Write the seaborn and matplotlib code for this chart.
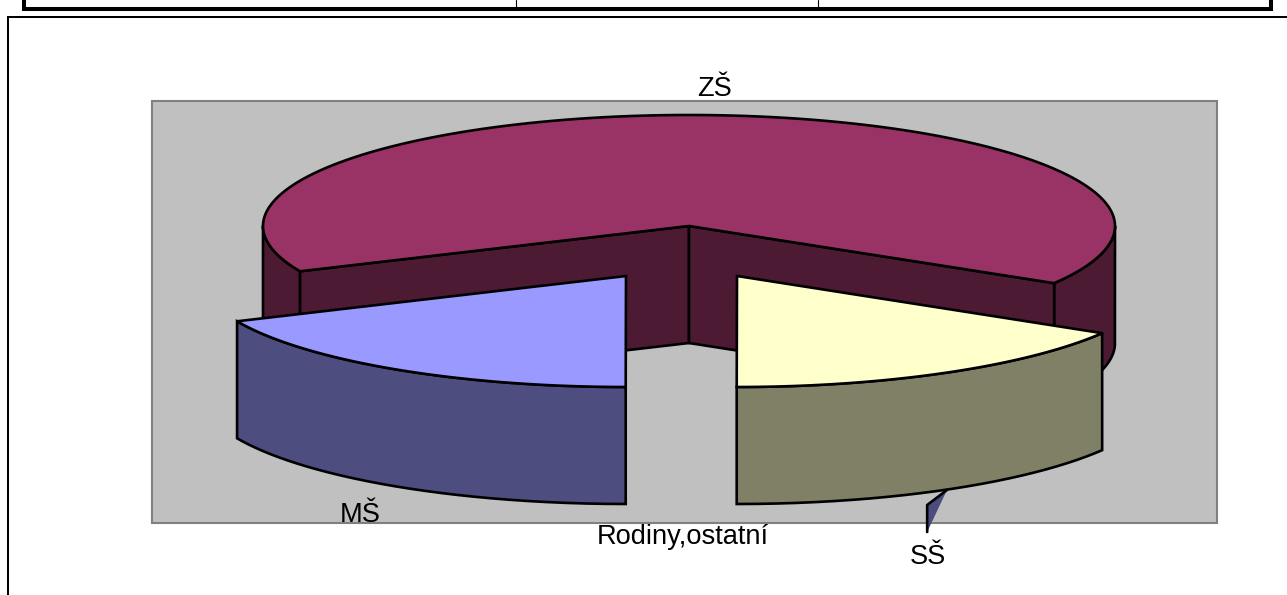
import numpy as np
import seaborn as sns
import matplotlib.pyplot as plt
from matplotlib.patches import Rectangle

# Shares (percent)
labels = ['ZŠ', 'SŠ', 'MŠ', 'Rodiny,ostatní']
shares = [65.3, 16.4, 18.3, 0.0]
top_colors = ['#993366', '#FFFFCC', '#9999FF', '#9999FF']

sns.set_style("white")
plt.rcParams['font.family'] = ['Liberation Sans', 'DejaVu Sans']
plt.rcParams['text.color'] = 'black'

# Pie geometry, in figure pixels
RX, RY, DEPTH = 426, 111, 117
PIE_CENTER = (689, 226)
OFFSETS = {'ZŠ': (0, 0), 'SŠ': (48, 50), 'MŠ': (-63, 50)}
START_ANGLE = 329  # where ZŠ ends, slices then run clockwise
LW = 1.9

side_colors = [tuple(c * 0.5 for c in col) for col in sns.color_palette(top_colors)]


def arc(cx, cy, a0, a1, rx=RX, ry=RY):
    t = np.radians(np.linspace(a0, a1, 200))
    return cx + rx * np.cos(t), cy - ry * np.sin(t)


def draw_wall(ax, xs, ys, color):
    # extruded band below a top edge
    ax.fill(np.r_[xs, xs[::-1]], np.r_[ys, ys[::-1] + DEPTH], color=color, lw=0, zorder=3)
    ax.plot(np.r_[xs, xs[::-1], xs[0]], np.r_[ys, ys[::-1] + DEPTH, ys[0]], color='black', lw=LW,
            solid_joinstyle='miter', zorder=3)


def draw_top(ax, cx, cy, a0, a1, color):
    xs, ys = arc(cx, cy, a0, a1)
    ax.fill(np.r_[cx, xs, cx], np.r_[cy, ys, cy], facecolor=color, edgecolor='black', lw=LW,
            joinstyle='miter', zorder=3)


fig = plt.figure(figsize=(12.87, 5.95), dpi=100)
ax = fig.add_axes([0, 0, 1, 1])
ax.set_xlim(0, 1287)
ax.set_ylim(595, 0)
ax.axis('off')

# Remains of the table above and the frame around the chart
ax.plot([24, 24, 1271, 1271], [0, 9, 9, 0], color='black', lw=2.9, solid_joinstyle='miter')
ax.plot([515.5, 515.5], [0, 8], color='black', lw=0.8)
ax.plot([817.5, 817.5], [0, 8], color='black', lw=0.8)
ax.plot([8, 8, 1287], [595, 17, 17], color='black', lw=1.45, solid_joinstyle='miter')

# Plot area
ax.add_patch(Rectangle((152, 100.5), 1065, 422.5, fc='#C0C0C0', ec='#808080', lw=1.5, zorder=1))

# Angles of each slice from the shares
angles = {}
a = START_ANGLE
for name, share in zip(labels[1:3], shares[1:3]):
    angles[name] = (a, a - share * 3.6)
    a -= share * 3.6
z_left = a  # about 204 degrees
z_right = START_ANGLE

# Large slice: outer wall, the two cut walls, then the top
cx, cy = PIE_CENTER
for a0, a1 in [(z_right, 360), (180, z_left)]:
    xs, ys = arc(cx, cy, a0, a1)
    draw_wall(ax, xs, ys, side_colors[0])
for ang in [z_left, z_right]:
    ex, ey = arc(cx, cy, ang, ang)
    draw_wall(ax, np.array([cx, ex[0]]), np.array([cy, ey[0]]), side_colors[0])
draw_top(ax, cx, cy, z_right - 360, z_left, top_colors[0])

# Tiny slice peeking out under SŠ
tip_x, tip_y = 947, 490
rim_x, rim_y = arc(tip_x, tip_y, 251 - shares[3] * 3.6, 251, RX * 0.143, RY * 0.143)
ax.fill([tip_x, rim_x[-1], rim_x[-1]], [tip_y, rim_y[-1], rim_y[-1] + 27], color='#4C4C7F', lw=0, zorder=4)
ax.plot([tip_x, rim_x[-1], rim_x[-1]], [tip_y, rim_y[-1], rim_y[-1] + 27], color='black', lw=LW, zorder=4)

# Pulled out slices
for name, color, side in [('SŠ', top_colors[1], side_colors[1]), ('MŠ', top_colors[2], side_colors[2])]:
    ox, oy = OFFSETS[name]
    a0, a1 = angles[name]
    sx, sy = cx + ox, cy + oy
    xs, ys = arc(sx, sy, a0, a1)
    draw_wall(ax, xs, ys, side)
    draw_top(ax, sx, sy, a0, a1, color)

# Labels
ax.text(715, 89, 'ZŠ', fontsize=19.6, ha='center', va='center', zorder=5)
ax.text(360.5, 515, 'MŠ', fontsize=19.6, ha='center', va='center', zorder=5)
ax.text(683, 537, 'Rodiny,ostatní', fontsize=19.6, ha='center', va='center', zorder=5)
ax.text(927.5, 557, 'SŠ', fontsize=19.6, ha='center', va='center', zorder=5)

plt.savefig('out.png', dpi=100)
plt.close()
